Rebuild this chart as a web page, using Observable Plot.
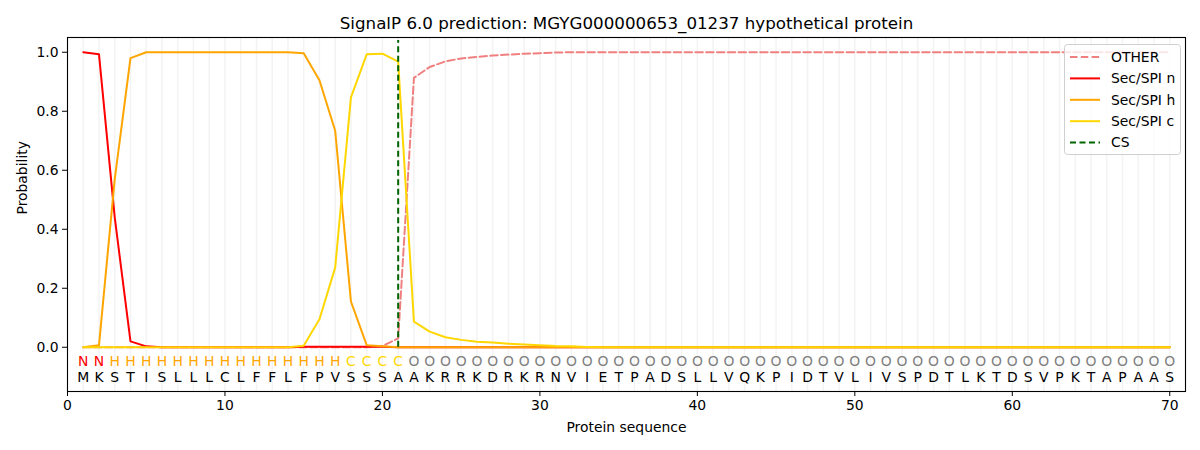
<!DOCTYPE html>
<html><head><meta charset="utf-8">
<script src="https://cdn.jsdelivr.net/npm/d3@7"></script>
<script src="https://cdn.jsdelivr.net/npm/@observablehq/plot@0.6"></script>
<style>
body{margin:0;background:#fff;font-family:"DejaVu Sans",sans-serif;}
#wrap{position:relative;width:1200px;height:450px;}
#legend{position:absolute;left:1064px;top:44px;}
</style>
</head><body>
<div id="wrap"><div id="chart"></div><svg id="legend" width="118" height="112"></svg></div>
<script>
const chartTitle = "SignalP 6.0 prediction: MGYG000000653_01237 hypothetical protein";
const positions = d3.range(1, 71);
const residues = "MKSTISLLLCLFFLFPVSSSAAKRRKDRKRNVIETPADSLLVQKPIDTVLIVSPDTLKTDSVPKTAPAAS".split("");
const regions = ("NN" + "HHHHHHHHHHHHHHH" + "CCCC" + "OOOOOOOOOOOOOOOOOOOOOOOOOOOOOOOOOOOOOOOOOOOOOOOOO").split("");
const regionColors = {N: "#ff0000", H: "#ffa500", C: "#ffd700", O: "#808080"};
const csPos = 21;
const xTicks = [0, 10, 20, 30, 40, 50, 60, 70];
const yTicks = [0, 0.2, 0.4, 0.6, 0.8, 1.0];

const other = [
  0,0,0,0,0,0,0,0,0,0,
  0,0,0,0,0,0,0,0,0,0.004,
  0.03,0.913,0.95,0.969,0.979,0.984,0.989,0.992,0.995,0.997,
  0.999,1,1,1,1,1,1,1,1,1,
  1,1,1,1,1,1,1,1,1,1,
  1,1,1,1,1,1,1,1,1,1,
  1,1,1,1,1,1,1,1,1,1
];
const secN = [
  1.0,0.993,0.44,0.02,0.003,0,0,0,0,0,
  0,0,0,0,0.002,0.002,0.002,0.002,0.002,0.002,
  0,0,0,0,0,0,0,0,0,0,
  0,0,0,0,0,0,0,0,0,0,
  0,0,0,0,0,0,0,0,0,0,
  0,0,0,0,0,0,0,0,0,0,
  0,0,0,0,0,0,0,0,0,0
];
const secH = [
  0,0.007,0.57,0.98,1,1,1,1,1,1,
  1,1,1,1,0.997,0.905,0.734,0.155,0.007,0.003,
  0,0,0,0,0,0,0,0,0,0,
  0,0,0,0,0,0,0,0,0,0,
  0,0,0,0,0,0,0,0,0,0,
  0,0,0,0,0,0,0,0,0,0,
  0,0,0,0,0,0,0,0,0,0
];
const secC = [
  0,0,0,0,0,0,0,0,0,0,
  0,0,0,0,0.005,0.095,0.27,0.847,0.993,0.995,
  0.968,0.087,0.053,0.034,0.025,0.019,0.016,0.012,0.009,0.007,
  0.004,0.003,0.001,0,0,0,0,0,0,0,
  0,0,0,0,0,0,0,0,0,0,
  0,0,0,0,0,0,0,0,0,0,
  0,0,0,0,0,0,0,0,0,0
];

const seriesDefs = [
  {name: "OTHER", values: other, color: "#f08080", dash: "7.5,3.3"},
  {name: "Sec/SPI n", values: secN, color: "#ff0000", dash: null},
  {name: "Sec/SPI h", values: secH, color: "#ffa500", dash: null},
  {name: "Sec/SPI c", values: secC, color: "#ffd700", dash: null}
];

const rowsFor = s => positions.map((p, i) => ({pos: p, prob: s.values[i]}));
const letters = positions.map((p, i) => ({pos: p, res: residues[i], reg: regions[i]}));

const lineMarks = seriesDefs.map(s => Plot.line(rowsFor(s), {
  x: "pos", y: "prob", stroke: s.color, strokeWidth: 2,
  strokeDasharray: s.dash || undefined
}));

const chart = Plot.plot({
  width: 1200, height: 450,
  marginLeft: 67, marginRight: 15, marginTop: 37, marginBottom: 59,
  style: {fontFamily: "DejaVu Sans", fontSize: "13.9px", background: "white", color: "black"},
  x: {domain: [0, 71]},
  y: {domain: [-0.15, 1.05]},
  marks: [
    Plot.ruleX(positions, {x: d => d, stroke: "#f3f3f3", strokeWidth: 1.5}),
    ...lineMarks,
    Plot.ruleX([csPos], {x: d => d, y1: 0, y2: 1.04, stroke: "#006400", strokeWidth: 2, strokeDasharray: "6,3.5"}),
    Plot.text(letters, {x: "pos", y: 0, dy: 14, text: "reg", fill: d => regionColors[d.reg], fontSize: 13.9}),
    Plot.text(letters, {x: "pos", y: 0, dy: 30, text: "res", fill: "black", fontSize: 13.9}),
    Plot.frame({stroke: "black", strokeWidth: 1.1}),
    Plot.axisX({ticks: xTicks, tickSize: 5, tickPadding: 4, fontSize: 13.9, label: null}),
    Plot.axisY({ticks: yTicks, tickSize: 5, tickPadding: 4, fontSize: 13.9, tickFormat: d3.format(".1f"), label: null}),
    Plot.text(["Protein sequence"], {frameAnchor: "bottom", lineAnchor: "middle", dy: 36, fontSize: 13.9, fill: "black"}),
    Plot.text(["Probability"], {frameAnchor: "left", dx: -45, rotate: -90, fontSize: 13.9, fill: "black"}),
    Plot.text([chartTitle], {frameAnchor: "top", lineAnchor: "middle", dy: -14, fontSize: 16.7, fill: "black"})
  ]
});
document.getElementById("chart").appendChild(chart);

// legend
const legendItems = [
  ...seriesDefs.map(s => ({name: s.name, color: s.color, dash: s.dash || null})),
  {name: "CS", color: "#006400", dash: "6,3.5"}
];
const lg = d3.select("#legend");
lg.append("rect").attr("x", 0.5).attr("y", 0.5).attr("width", 116).attr("height", 110)
  .attr("rx", 3).attr("fill", "rgba(255,255,255,0.8)").attr("stroke", "#d0d0d0");
legendItems.forEach((it, i) => {
  const cy = 13 + i * 21.4;
  lg.append("line").attr("x1", 6).attr("x2", 36).attr("y1", cy).attr("y2", cy)
    .attr("stroke", it.color).attr("stroke-width", 2).attr("stroke-dasharray", it.dash);
  lg.append("text").attr("x", 47).attr("y", cy).attr("dy", "0.35em")
    .attr("font-size", 13.9).attr("font-family", "DejaVu Sans").text(it.name);
});
</script>
</body></html>
